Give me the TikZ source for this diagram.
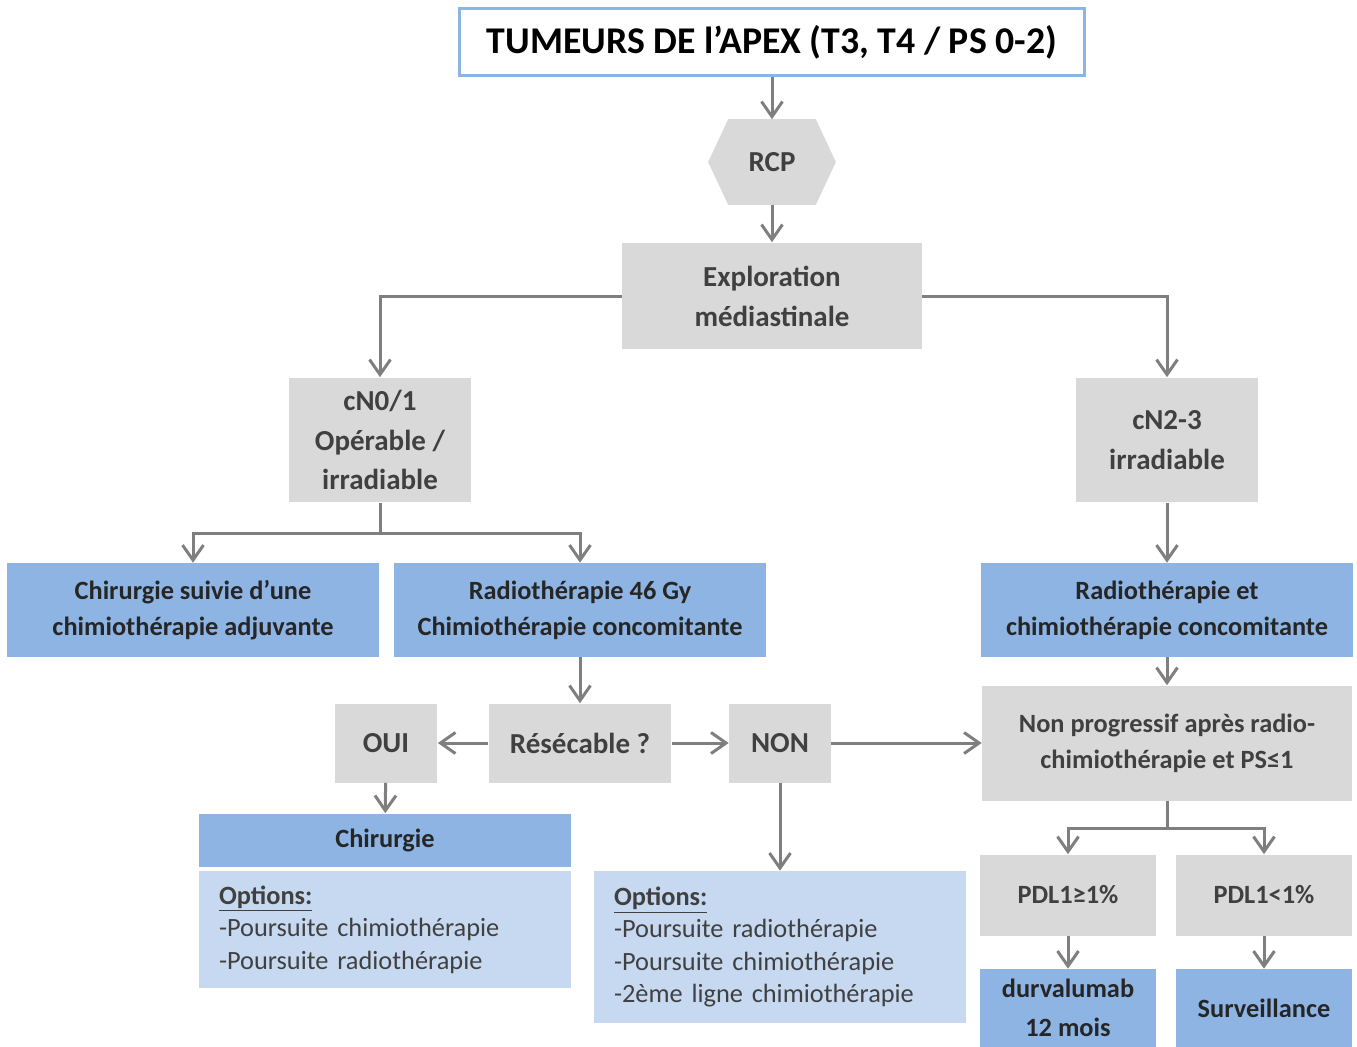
\documentclass[tikz,border=0pt]{standalone}
\usepackage{fontspec}
\setmainfont{Carlito}
\usetikzlibrary{arrows.meta}
\definecolor{boxgray}{HTML}{D9D9D9}
\definecolor{boxblue}{HTML}{8EB4E3}
\definecolor{optblue}{HTML}{C6D9F1}
\definecolor{linegray}{HTML}{7F7F7F}
\definecolor{txtgray}{HTML}{404040}
\definecolor{txtdark}{HTML}{262626}
\tikzset{
>={Straight Barb[length=0.3cm, width=0.42cm]}, % open V arrow heads
flow/.style={->, draw=linegray, line width=0.06cm}, % the gray connectors
graybox/.style={fill=boxgray, text=txtgray, align=center, inner sep=0pt,
  font=\bfseries\fontsize{16.5}{22.7}\selectfont}, % decision boxes
bluebox/.style={fill=boxblue, text=txtdark, align=center, inner sep=0pt,
  font=\bfseries\fontsize{15}{20.5}\selectfont}, % treatment boxes
optbox/.style={fill=optblue, text=txtgray, align=left, inner xsep=0.4cm, inner ysep=0pt,
  text width=6.64cm, font=\fontsize{15}{18.5}\selectfont}, % option lists
}

\begin{document}
\begin{tikzpicture}[x=0.02cm, y=-0.02cm]
    \useasboundingbox (0,0) rectangle (1357,1046);
    % Top of the chart
    \node[draw=boxblue, line width=0.06cm, fill=white, minimum width=12.52cm, minimum height=1.34cm,
      font=\bfseries\fontsize{21.5}{25}\selectfont, text=black] (title) at (772,42) {TUMEURS DE l’APEX (T3, T4 / PS 0-2)};
    \node[minimum width=2.54cm, minimum height=1.7cm, inner sep=0pt] (rcp) at (772,162) {};
    \fill[boxgray] (rcp.west) -- ([xshift=0.4cm]rcp.north west) -- ([xshift=-0.4cm]rcp.north east)
      -- (rcp.east) -- ([xshift=-0.4cm]rcp.south east) -- ([xshift=0.4cm]rcp.south west) -- cycle;
    \node[text=txtgray, font=\bfseries\fontsize{16.5}{20}\selectfont] (rcplabel) at (rcp) {RCP};
    \node[graybox, minimum width=6cm, minimum height=2.14cm] (explo) at (772,296) {Exploration\\médiastinale};
    % Nodal status
    \node[graybox, minimum width=3.66cm, minimum height=2.5cm] (cn01) at (380,440) {cN0/1\\Opérable /\\irradiable};
    \node[graybox, minimum width=3.66cm, minimum height=2.5cm] (cn23) at (1167,440) {cN2-3\\irradiable};
    \node[bluebox, minimum width=7.44cm, minimum height=1.88cm] (chirsuiv) at (193,610) {Chirurgie suivie d’une\\chimiothérapie adjuvante};
    \node[bluebox, minimum width=7.44cm, minimum height=1.88cm] (radio46) at (580,610) {Radiothérapie 46 Gy\\Chimiothérapie concomitante};
    \node[bluebox, minimum width=7.44cm, minimum height=1.88cm] (radiochim) at (1167,610) {Radiothérapie et\\chimiothérapie concomitante};
    % Resectability
    \node[graybox, minimum width=3.66cm, minimum height=1.58cm] (resec) at (580,743) {Résécable ?};
    \node[graybox, minimum width=2.06cm, minimum height=1.58cm] (oui) at (386,743) {OUI};
    \node[graybox, minimum width=2.04cm, minimum height=1.58cm] (non) at (780,743) {NON};
    \node[graybox, minimum width=7.4cm, minimum height=2.3cm, font=\bfseries\fontsize{15}{20.5}\selectfont]
      (nonprog) at (1167,743) {Non progressif après radio-\\chimiothérapie et PS≤1};
    \node[bluebox, minimum width=7.44cm, minimum height=1.06cm] (chir) at (385,840) {Chirurgie};
    \node[optbox, minimum height=2.34cm] (optl) at (385,929.5) {\textbf{\underline{Options:}}\\-Poursuite chimiothérapie\\-Poursuite radiothérapie};
    \node[optbox, minimum height=3.04cm] (optr) at (780,947) {\textbf{\underline{Options:}}\\-Poursuite radiothérapie\\-Poursuite chimiothérapie\\-2ème ligne chimiothérapie};
    % PD-L1
    \node[graybox, minimum width=3.52cm, minimum height=1.62cm, font=\bfseries\fontsize{15}{20.5}\selectfont] (pdlpos) at (1068,895) {PDL1≥1\%};
    \node[graybox, minimum width=3.52cm, minimum height=1.62cm, font=\bfseries\fontsize{15}{20.5}\selectfont] (pdlneg) at (1264,895) {PDL1<1\%};
    \node[bluebox, minimum width=3.52cm, minimum height=1.56cm, font=\bfseries\fontsize{15}{22}\selectfont] (durva) at (1068,1008) {durvalumab\\12 mois};
    \node[bluebox, minimum width=3.52cm, minimum height=1.56cm] (surv) at (1264,1008) {Surveillance};
    \coordinate (split1) at (380,533);
    \coordinate (split2) at (1167,828);
    \draw[flow] (title) -- (rcp);
    \draw[flow] (rcp) -- (explo);
    \draw[flow] (explo.west) -| (cn01.north);
    \draw[flow] (explo.east) -| (cn23.north);
    \draw[flow, -] (cn01) -- (split1);
    \draw[flow] (split1) -| (chirsuiv.north);
    \draw[flow] (split1) -| (radio46.north);
    \draw[flow] (cn23) -- (radiochim);
    \draw[flow] (radio46) -- (resec);
    \draw[flow] (resec) -- (oui);
    \draw[flow] (resec) -- (non);
    \draw[flow] (non) -- (nonprog);
    \draw[flow] (oui) -- (chir);
    \draw[flow] (non) -- (optr);
    \draw[flow] (radiochim) -- (nonprog);
    \draw[flow, -] (nonprog) -- (split2);
    \draw[flow] (split2) -| (pdlpos.north);
    \draw[flow] (split2) -| (pdlneg.north);
    \draw[flow] (pdlpos) -- (durva);
    \draw[flow] (pdlneg) -- (surv);
  \end{tikzpicture}
\end{document}
